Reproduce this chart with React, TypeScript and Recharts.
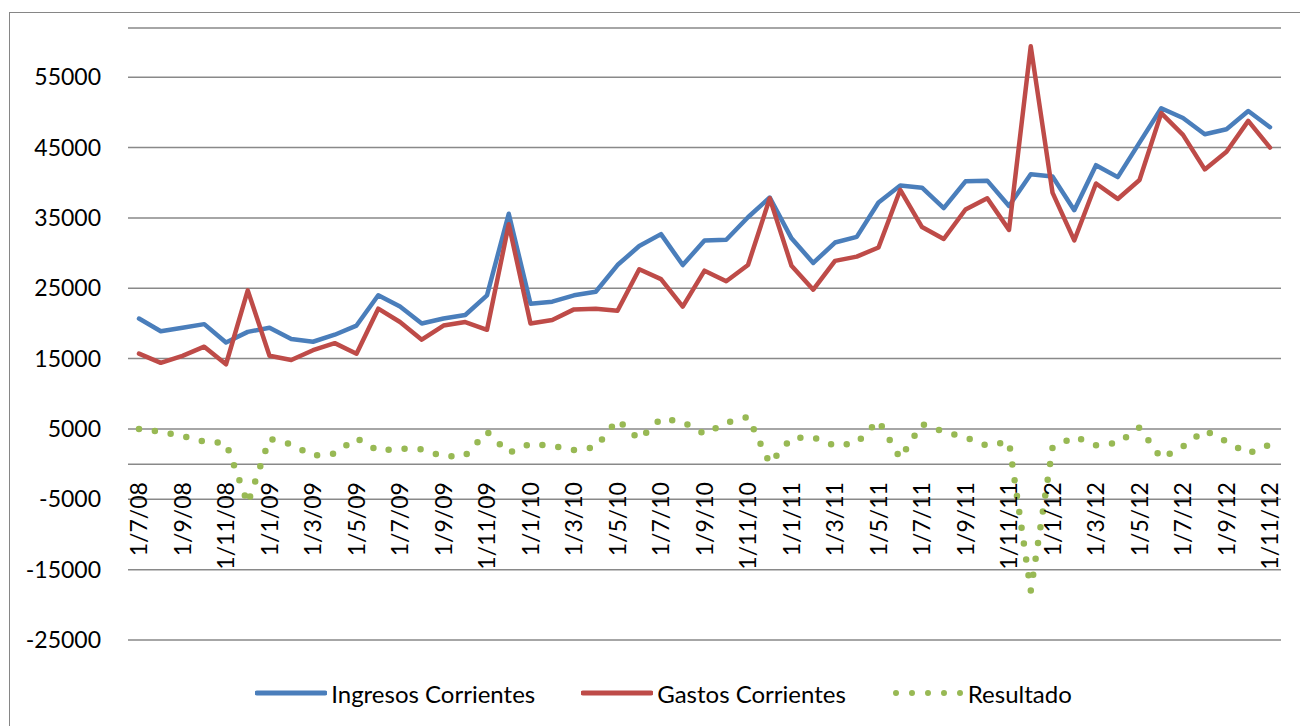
import { LineChart, Line, XAxis, YAxis, CartesianGrid, ReferenceLine } from 'recharts'

// Monthly current revenue / expenditure and result, Jul 2008 – Nov 2012
const categories = [
  '1/7/08', '1/8/08', '1/9/08', '1/10/08', '1/11/08', '1/12/08',
  '1/1/09', '1/2/09', '1/3/09', '1/4/09', '1/5/09', '1/6/09', '1/7/09', '1/8/09', '1/9/09', '1/10/09', '1/11/09', '1/12/09',
  '1/1/10', '1/2/10', '1/3/10', '1/4/10', '1/5/10', '1/6/10', '1/7/10', '1/8/10', '1/9/10', '1/10/10', '1/11/10', '1/12/10',
  '1/1/11', '1/2/11', '1/3/11', '1/4/11', '1/5/11', '1/6/11', '1/7/11', '1/8/11', '1/9/11', '1/10/11', '1/11/11', '1/12/11',
  '1/1/12', '1/2/12', '1/3/12', '1/4/12', '1/5/12', '1/6/12', '1/7/12', '1/8/12', '1/9/12', '1/10/12', '1/11/12',
]

const ingresos = [
  20700, 18900, 19400, 19900, 17300, 18800,
  19400, 17800, 17400, 18400, 19700, 24000, 22400, 20000, 20700, 21200, 24000, 35600,
  22800, 23100, 24000, 24500, 28300, 31000, 32700, 28300, 31800, 31900, 35100, 37900,
  32100, 28600, 31500, 32300, 37200, 39600, 39300, 36400, 40200, 40300, 36700, 41200,
  40900, 36100, 42500, 40800, 45700, 50600, 49200, 46900, 47600, 50200, 47900,
]

const gastos = [
  15700, 14400, 15400, 16700, 14200, 24700,
  15400, 14800, 16200, 17200, 15700, 22100, 20200, 17700, 19700, 20200, 19100, 34100,
  20000, 20500, 22000, 22100, 21800, 27700, 26300, 22400, 27500, 26000, 28300, 37800,
  28200, 24800, 28900, 29500, 30800, 39000, 33700, 32000, 36200, 37800, 33300, 59400,
  38600, 31800, 39900, 37700, 40400, 49900, 46800, 41900, 44400, 48800, 45000,
]

const resultado = [
  5000, 4600, 4000, 3200, 3000, -5600,
  3600, 2800, 1200, 1500, 3700, 1900, 2200, 2100, 1100, 1200, 4600, 1600,
  2900, 2600, 2000, 2400, 6300, 3500, 6500, 6000, 4300, 5900, 6700, 100,
  3700, 3800, 2600, 3000, 6200, 800, 5700, 4600, 3800, 2600, 3200, -18000,
  2300, 3900, 2700, 3000, 5200, 800, 2500, 4800, 3200, 1500, 2800,
]

const yTicks = [-25000, -15000, -5000, 5000, 15000, 25000, 35000, 45000, 55000]

const seriesInfo = [
  { key: 'ingresos', name: 'Ingresos Corrientes', color: '#4A7EBB', dotted: false },
  { key: 'gastos', name: 'Gastos Corrientes', color: '#BE4B48', dotted: false },
  { key: 'resultado', name: 'Resultado', color: '#98B954', dotted: true },
]

const W = 1300
const H = 726
const Y_MIN = -25000
const Y_MAX = 62000
const X_AXIS_H = 30
const MARGIN = { top: 28, right: 19, bottom: 86 - X_AXIS_H, left: 0 }
const FONT = 'Lato, "Open Sans", sans-serif'

const data = categories.map((fecha, i) => ({
  fecha,
  ingresos: ingresos[i],
  gastos: gastos[i],
  resultado: resultado[i],
}))

// x axis crosses at 0, so labels hang from the zero line instead of the plot bottom
const plotH = H - MARGIN.top - MARGIN.bottom - X_AXIS_H
const zeroY = MARGIN.top + ((Y_MAX - 0) / (Y_MAX - Y_MIN)) * plotH

// eslint-disable-next-line @typescript-eslint/no-explicit-any
function DateTick(props: any) {
  const { x, payload } = props
  const ty = zeroY + 18
  return (
    <text
      x={x}
      y={ty}
      dy="0.36em"
      transform={`rotate(-90, ${x}, ${ty})`}
      textAnchor="end"
      fill="#000"
      fontSize={23}
      fontFamily={FONT}
    >
      {payload.value}
    </text>
  )
}

function Swatch({ color, dotted }: { color: string; dotted: boolean }) {
  return (
    <svg width={72} height={12} style={{ display: 'block' }}>
      {dotted ? (
        <line x1={4} y1={6} x2={69} y2={6} stroke={color} strokeWidth={6} strokeLinecap="round" strokeDasharray="0 16" />
      ) : (
        <line x1={2} y1={6} x2={70} y2={6} stroke={color} strokeWidth={5} strokeLinecap="round" />
      )}
    </svg>
  )
}

export default function App() {
  return (
    <div style={{ position: 'absolute', left: 0, top: 0, width: W, height: H, overflow: 'hidden', background: '#fff' }}>
      {/* chart frame – right and bottom edges fall outside the picture */}
      <div
        style={{
          position: 'absolute', left: 9, top: 12, width: W + 20, height: H + 20,
          borderLeft: '1.5px solid #868686', borderTop: '1.5px solid #868686',
        }}
      />
      <LineChart width={W} height={H} data={data} margin={MARGIN} style={{ position: 'absolute', left: 0, top: 0 }}>
        <CartesianGrid vertical={false} stroke="#898989" strokeWidth={1.5} />
        <YAxis
          type="number"
          domain={[Y_MIN, Y_MAX]}
          ticks={yTicks}
          width={128}
          axisLine={false}
          tickLine={false}
          tickSize={0}
          tickMargin={27}
          tick={{ fill: '#000', fontSize: 23, fontFamily: FONT }}
        />
        <XAxis
          dataKey="fecha"
          height={X_AXIS_H}
          interval={1}
          padding={{ left: 11, right: 11 }}
          axisLine={false}
          tickLine={false}
          tick={DateTick}
        />
        <ReferenceLine y={0} stroke="#898989" strokeWidth={1.5} />
        {seriesInfo.map(s => (
          <Line
            key={s.key}
            type="linear"
            dataKey={s.key}
            name={s.name}
            stroke={s.color}
            strokeWidth={s.dotted ? 6.5 : 4.5}
            strokeDasharray={s.dotted ? '0 16' : undefined}
            strokeLinecap="round"
            strokeLinejoin="round"
            dot={false}
            activeDot={false}
            isAnimationActive={false}
          />
        ))}
      </LineChart>
      {/* legend */}
      <div
        style={{
          position: 'absolute', left: 10, width: 1307, top: 679, height: 28,
          display: 'flex', justifyContent: 'center', alignItems: 'center', gap: 46,
          fontFamily: FONT, fontSize: 24, color: '#000',
        }}
      >
        {seriesInfo.map(s => (
          <div key={s.key} style={{ display: 'flex', alignItems: 'center', gap: 4, whiteSpace: 'nowrap' }}>
            <Swatch color={s.color} dotted={s.dotted} />
            <span>{s.name}</span>
          </div>
        ))}
      </div>
    </div>
  )
}
